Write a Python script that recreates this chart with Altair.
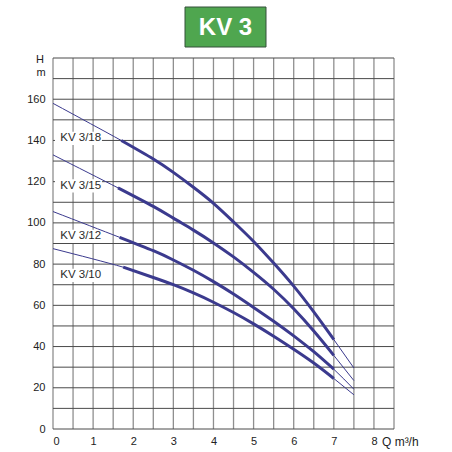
import altair as alt
import pandas as pd

# ---- data ----
models = ["KV 3/18", "KV 3/15", "KV 3/12", "KV 3/10"]

q_18 = [0, 1.7, 2.5, 3.0, 3.5, 4.0, 4.5, 5.0, 5.5, 6.0, 6.5, 7.0, 7.5]
h_18 = [158, 140, 131, 124.5, 117.3, 109.5, 100.5, 91, 80.5, 69.3, 56.8, 43.4, 29.6]

q_15 = [0, 1.62, 2.5, 3.0, 3.5, 4.0, 4.5, 5.0, 5.5, 6.0, 6.5, 7.0, 7.5]
h_15 = [133, 117, 108, 102.3, 96.5, 90.3, 83.5, 76, 67.8, 58.3, 47.5, 35.7, 23.5]

q_12 = [0, 1.66, 2.5, 3.0, 3.5, 4.0, 4.5, 5.0, 5.5, 6.0, 6.5, 7.0, 7.5]
h_12 = [105.5, 93, 86.5, 82, 77, 71.5, 65.5, 59, 52.3, 45.2, 37.5, 29, 19.3]

q_10 = [0, 1.75, 2.5, 3.0, 3.5, 4.0, 4.5, 5.0, 5.5, 6.0, 6.5, 7.0, 7.5]
h_10 = [87.5, 78.5, 73.5, 70, 66, 61.5, 56.5, 51, 45, 38.7, 32, 24.5, 16.6]

thick_start = [1.7, 1.62, 1.66, 1.75]
thick_end = 7.0

label_q = [0.18, 0.18, 0.18, 0.18]
label_h = [141, 118, 93.5, 74.5]

x_labels = [0, 1, 2, 3, 4, 5, 6, 7, 8]
y_labels = [0, 20, 40, 60, 80, 100, 120, 140, 160]
x_grid = [0, 0.5, 1, 1.5, 2, 2.5, 3, 3.5, 4, 4.5, 5, 5.5, 6, 6.5, 7, 7.5, 8, 8.5]
y_grid = [0, 10, 20, 30, 40, 50, 60, 70, 80, 90, 100, 110, 120, 130, 140, 150, 160, 170, 180]

title_text = ["KV 3"]

# ---- tables ----
rows = []
for m, qs, hs, s in zip(models, [q_18, q_15, q_12, q_10], [h_18, h_15, h_12, h_10], thick_start):
    for q, h in zip(qs, hs):
        rows.append({"model": m, "Q": q, "H": h,
                     "thick": (q >= s - 1e-9) and (q <= thick_end + 1e-9)})
curves = pd.DataFrame(rows)

labels = pd.DataFrame({"model": models, "lq": label_q, "lh": label_h})
labels["x0"] = labels["lq"] - 0.13
labels["x1"] = labels["lq"] + 1.04
labels["y0"] = labels["lh"] - 3.2
labels["y1"] = labels["lh"] + 3.2

W, H = 341, 371
FONT = "Liberation Sans"
LINE_COLOR = "#3b3a8e"

xs = alt.Scale(domain=[0, 8.5], nice=False, zero=False)
ys = alt.Scale(domain=[0, 180], nice=False, zero=False)

x_axis = alt.Axis(values=x_labels, title=None, domain=False, ticks=False, grid=False, format="d",
                  labelPadding=6, labelFontSize=11, labelColor="#222", labelFont=FONT,
                  labelOverlap=False)
y_axis = alt.Axis(values=y_labels, title=None, domain=False, ticks=False, grid=False, format="d",
                  labelPadding=8, labelFontSize=11, labelColor="#222", labelFont=FONT,
                  labelOverlap=False)

vgrid = alt.Chart(pd.DataFrame({"g": x_grid})).mark_rule(color="#8f8f8f", strokeWidth=1.3).encode(
    x=alt.X("g:Q", scale=xs, axis=x_axis), y=alt.value(0), y2=alt.value(H))
hgrid = alt.Chart(pd.DataFrame({"g": y_grid})).mark_rule(color="#4a4a4a", strokeWidth=1).encode(
    y=alt.Y("g:Q", scale=ys, axis=y_axis), x=alt.value(0), x2=alt.value(W))

thin = alt.Chart(curves).mark_line(color=LINE_COLOR, strokeWidth=1, interpolate="natural").encode(
    x=alt.X("Q:Q", scale=xs, axis=x_axis),
    y=alt.Y("H:Q", scale=ys, axis=y_axis),
    detail="model:N",
)

thick = alt.Chart(curves).transform_filter("datum.thick").mark_line(
    color=LINE_COLOR, strokeWidth=3, interpolate="natural").encode(
    x=alt.X("Q:Q", scale=xs, axis=x_axis),
    y=alt.Y("H:Q", scale=ys, axis=y_axis),
    detail="model:N",
)

mask = alt.Chart(labels).mark_rect(color="white").encode(
    x=alt.X("x0:Q", scale=xs, axis=x_axis), x2="x1:Q",
    y=alt.Y("y0:Q", scale=ys, axis=y_axis), y2="y1:Q",
)

label_text = alt.Chart(labels).mark_text(align="left", baseline="middle", fontSize=11.5,
                                         font=FONT, color="#2a2a2a").encode(
    x=alt.X("lq:Q", scale=xs, axis=x_axis),
    y=alt.Y("lh:Q", scale=ys, axis=y_axis),
    text="model:N",
)

tdf = pd.DataFrame({"t": title_text})
title_box = alt.Chart(tdf).mark_rect(color="#4fa64f", stroke="#34503a", strokeWidth=1).encode(
    x=alt.value(132), x2=alt.value(213), y=alt.value(-51), y2=alt.value(-11),
)
title_lbl = alt.Chart(tdf).mark_text(font=FONT, fontSize=24, fontWeight="bold", color="white",
                                     align="center", baseline="middle").encode(
    x=alt.value(172.5), y=alt.value(-30), text="t:N",
)

h_lbl = alt.Chart(pd.DataFrame({"t": ["H"]})).mark_text(font=FONT, fontSize=11, color="#222",
                                                        align="center", baseline="middle").encode(
    x=alt.value(-13), y=alt.value(2), text="t:N")
m_lbl = alt.Chart(pd.DataFrame({"t": ["m"]})).mark_text(font=FONT, fontSize=11, color="#222",
                                                        align="center", baseline="middle").encode(
    x=alt.value(-12), y=alt.value(15), text="t:N")
q_lbl = alt.Chart(pd.DataFrame({"t": ["Q m³/h"], "q": [8.2]})).mark_text(
    font=FONT, fontSize=12, color="#222", align="left", baseline="middle").encode(
    x=alt.X("q:Q", scale=xs, axis=x_axis), y=alt.value(H + 13), text="t:N")

chart = alt.layer(vgrid, hgrid, mask, thin, thick, label_text, title_box, title_lbl,
                  h_lbl, m_lbl, q_lbl).properties(
    width=W, height=H,
    autosize=alt.AutoSizeParams(type="none"),
    padding={"left": 53, "top": 58, "right": 58, "bottom": 23},
    background="white",
).configure_view(stroke=None)

chart.save("out.html", embed_options={"renderer": "svg", "actions": False})
